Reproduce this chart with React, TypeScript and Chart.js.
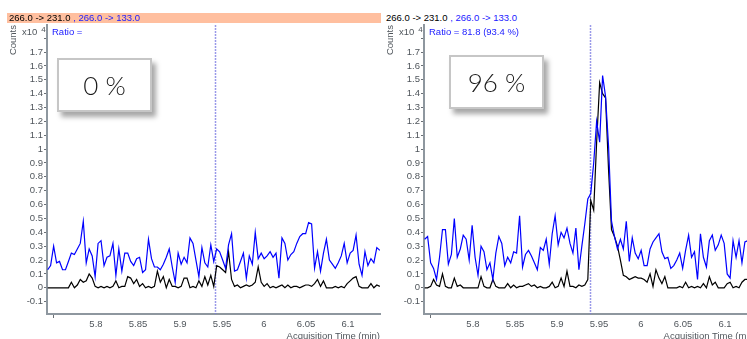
import React, { useEffect, useRef } from "react";
import { Chart, registerables } from "chart.js";
Chart.register(...registerables);

// ---- data ----
const times = [
  5.7425, 5.7460, 5.7496, 5.7531, 5.7566, 5.7602, 5.7637, 5.7672, 5.7707, 5.7743,
  5.7778, 5.7813, 5.7849, 5.7884, 5.7919, 5.7955, 5.7990, 5.8025, 5.8060, 5.8096,
  5.8131, 5.8166, 5.8202, 5.8237, 5.8272, 5.8308, 5.8343, 5.8378, 5.8413, 5.8449,
  5.8484, 5.8519, 5.8555, 5.8590, 5.8625, 5.8661, 5.8696, 5.8731, 5.8766, 5.8802,
  5.8837, 5.8872, 5.8908, 5.8943, 5.8978, 5.9014, 5.9049, 5.9084, 5.9119, 5.9155,
  5.9190, 5.9225, 5.9261, 5.9296, 5.9331, 5.9367, 5.9402, 5.9437, 5.9472, 5.9508,
  5.9543, 5.9578, 5.9614, 5.9649, 5.9684, 5.9720, 5.9755, 5.9790, 5.9825, 5.9861,
  5.9896, 5.9931, 5.9967, 6.0002, 6.0037, 6.0073, 6.0108, 6.0143, 6.0178, 6.0214,
  6.0249, 6.0284, 6.0320, 6.0355, 6.0390, 6.0426, 6.0461, 6.0496, 6.0531, 6.0567,
  6.0602, 6.0637, 6.0673, 6.0708, 6.0743, 6.0779, 6.0814, 6.0849, 6.0884, 6.0920,
  6.0955, 6.0990, 6.1026, 6.1061, 6.1096, 6.1132, 6.1167, 6.1202, 6.1237, 6.1273,
  6.1308, 6.1343, 6.1379,
];

const blueLeft = [
  0.13, 0.16, 0.30, 0.18, 0.19, 0.13, 0.13, 0.19, 0.25, 0.24,
  0.28, 0.32, 0.48, 0.18, 0.28, 0.23, 0.08, 0.32, 0.34, 0.16,
  0.22, 0.23, 0.32, 0.09, 0.28, 0.12, 0.25, 0.25, 0.19, 0.16,
  0.21, 0.22, 0.11, 0.13, 0.35, 0.21, 0.15, 0.15, 0.13, 0.17,
  0.22, 0.28, 0.15, 0.04, 0.25, 0.17, 0.22, 0.18, 0.36, 0.32,
  0.20, 0.08, 0.29, 0.18, 0.15, 0.31, 0.19, 0.28, 0.26, 0.20,
  0.14, 0.31, 0.39, 0.12, 0.13, 0.19, 0.25, 0.07, 0.23, 0.17,
  0.40, 0.21, 0.25, 0.21, 0.23, 0.26, 0.22, 0.25, 0.07, 0.36,
  0.32, 0.20, 0.24, 0.26, 0.32, 0.37, 0.39, 0.39, 0.47, 0.46,
  0.14, 0.26, 0.12, 0.25, 0.35, 0.20, 0.17, 0.14, 0.18, 0.23,
  0.32, 0.18, 0.25, 0.27, 0.38, 0.17, 0.09, 0.26, 0.16, 0.21,
  0.18, 0.29, 0.27,
];

const blackLeft = [
  0, 0, 0, 0, 0, 0, 0, 0, 0.04, 0,
  0.02, 0.06, 0.04, 0.05, 0.10, 0.07, 0.01, 0, 0.01, 0,
  0.01, 0, 0.01, 0.05, 0, 0.01, 0.01, 0.08, 0.07, 0.03,
  0.06, 0.01, 0.03, 0, 0.01, 0, 0.01, 0.12, 0.04, 0.08,
  0, 0.06, 0.01, 0.01, 0, 0.01, 0.07, 0.07, 0, 0.01,
  0, 0.05, 0.01, 0.08, 0.02, 0.09, 0.01, 0.16, 0.15, 0.13,
  0.11, 0.26, 0.06, 0.01, 0.02, 0, 0.01, 0.02, 0.01, 0.02,
  0.04, 0.15, 0.04, 0.01, 0.03, 0, 0.01, 0, 0.01, 0.02,
  0, 0.02, 0, 0.01, 0.01, 0, 0.01, 0.02, 0.02, 0.01,
  0.03, 0.06, 0.01, 0.05, 0, 0, 0, 0.01, 0, 0.01,
  0, 0.03, 0.05, 0.07, 0.08, 0.01, 0, 0, 0, 0.03,
  0, 0.02, 0.01,
];

const blueRight = [
  0.35, 0.37, 0.18, 0.14, 0.06, 0.22, 0.42, 0.42, 0.17, 0.24,
  0.50, 0.22, 0.28, 0.38, 0.35, 0.20, 0.45, 0.22, 0.09, 0.30,
  0.26, 0.13, 0.18, 0.06, 0.25, 0.37, 0.32, 0.16, 0.22, 0.18,
  0.26, 0.25, 0.52, 0.15, 0.24, 0.27, 0.23, 0.18, 0.13, 0.29,
  0.27, 0.35, 0.17, 0.39, 0.52, 0.31, 0.40, 0.36, 0.43, 0.32,
  0.25, 0.43, 0.13, 0.30, 0.46, 0.64, 0.68, 0.90, 1.20, 1.05,
  1.53, 1.38, 1.02, 0.48, 0.37, 0.28, 0.35, 0.28, 0.48, 0.19,
  0.36, 0.25, 0.21, 0.27, 0.16, 0.16, 0.28, 0.33, 0.36, 0.39,
  0.26, 0.21, 0.22, 0.14, 0.16, 0.20, 0.25, 0.14, 0.27, 0.38,
  0.22, 0.26, 0.06, 0.39, 0.22, 0.15, 0.34, 0.38, 0.27, 0.31,
  0.38, 0.32, 0.10, 0.07, 0.34, 0.22, 0.34, 0.18, 0.33, 0.34,
  0.30,
];

const blackRight = [
  0, 0, 0.01, 0.06, 0.02, 0.01, 0.10, 0.01, 0, 0,
  0.07, 0.01, 0.02, 0, 0, 0, 0, 0, 0, 0.08,
  0.01, 0, 0, 0.06, 0.01, 0, 0, 0, 0.03, 0,
  0.02, 0, 0.01, 0.01, 0.02, 0.03, 0.01, 0.02, 0, 0.01,
  0, 0, 0.01, 0.04, 0, 0.01, 0.07, 0.01, 0.12, 0.01,
  0.01, 0, 0.02, 0.01, 0.02, 0.06, 0.63, 0.56, 1.05, 1.48,
  1.40, 1.37, 0.85, 0.42, 0.37, 0.30, 0.20, 0.09, 0.08, 0.06,
  0.07, 0.08, 0.07, 0.07, 0.06, 0.04, 0.10, 0.01, 0.13, 0.07,
  0.03, 0.08, 0, 0, 0, 0, 0.01, 0, 0.04, 0,
  0.01, 0, 0.01, 0, 0.03, 0, 0.08, 0.02, 0.04, 0,
  0, 0, 0.03, 0.04, 0, 0.01, 0, 0.04, 0.06, 0.06,
  0.03,
];

const xTicks = [5.75, 5.8, 5.85, 5.9, 5.95, 6, 6.05, 6.1];
const xTickLabels = ["", "5.8", "5.85", "5.9", "5.95", "6", "6.05", "6.1"];
const yTicks = [-0.1, 0, 0.1, 0.2, 0.3, 0.4, 0.5, 0.6, 0.7, 0.8, 0.9, 1, 1.1, 1.2, 1.3, 1.4, 1.5, 1.6, 1.7, 1.8];
const yTickLabels = ["-0.1", "0", "0.1", "0.2", "0.3", "0.4", "0.5", "0.6", "0.7", "0.8", "0.9", "1", "1.1", "1.2", "1.3", "1.4", "1.5", "1.6", "1.7", ""];

const xRange = [5.7417, 6.1381];
const yRange = [-0.189, 1.895];
const markerLeft = 5.9417;
const markerRight = 5.939;

const transitionA = "266.0 -> 231.0";
const transitionB = " , 266.0 -> 133.0";
const ratioLeft = "Ratio =";
const ratioRight = "Ratio = 81.8 (93.4 %)";
const percentLeft = "0 %";
const percentRight = "96 %";
const yUnit = "x10";
const yExp = "4";
const yTitle = "Counts";
const xTitle = "Acquisition Time (min)";

const FONT = "'Liberation Sans', Arial, Helvetica, sans-serif";
const AXIS_TEXT = "#50565c";

const markerPlugin = {
  id: "markerLine",
  beforeDatasetsDraw(chart: any, _args: any, opts: any) {
    const { ctx, chartArea } = chart;
    const x = Math.round(chart.scales.x.getPixelForValue(opts.value)) + 0.5;
    ctx.save();
    ctx.strokeStyle = "rgba(120,120,225,0.75)";
    ctx.lineWidth = 1.5;
    ctx.setLineDash([2, 1]);
    ctx.beginPath();
    ctx.moveTo(x, chartArea.top);
    ctx.lineTo(x, chartArea.bottom);
    ctx.stroke();
    ctx.restore();
  },
};

function labelFor(ticks: number[], labels: string[], v: number) {
  const i = ticks.findIndex((t) => Math.abs(t - v) < 1e-9);
  return i >= 0 ? labels[i] : "";
}

type PanelProps = {
  left: number;
  blue: number[];
  black: number[];
  marker: number;
  ratio: string;
  percent: string;
  selected: boolean;
  boxLeft: number;
  boxTop: number;
};

function Panel(p: PanelProps) {
  const ref = useRef<HTMLCanvasElement | null>(null);
  useEffect(() => {
    if (!ref.current) return;
    const chart = new Chart(ref.current, {
      type: "line",
      data: {
        datasets: [
          {
            data: p.blue.map((v, i) => ({ x: times[i], y: v })),
            borderColor: "#0000ff",
            borderWidth: 1.2,
            pointRadius: 0,
            tension: 0,
          },
          {
            data: p.black.map((v, i) => ({ x: times[i], y: v })),
            borderColor: "#000000",
            borderWidth: 1.2,
            pointRadius: 0,
            tension: 0,
          },
        ],
      },
      options: {
        animation: false,
        responsive: false,
        maintainAspectRatio: false,
        layout: { padding: { top: 25, right: 1, left: 0, bottom: 0 } },
        plugins: {
          legend: { display: false },
          tooltip: { enabled: false },
          markerLine: { value: p.marker },
        } as any,
        scales: {
          x: {
            type: "linear",
            min: xRange[0],
            max: xRange[1],
            afterFit: (s: any) => {
              s.height = 25;
            },
            afterBuildTicks: (s: any) => {
              s.ticks = xTicks.map((v) => ({ value: v }));
            },
            grid: {
              display: true,
              drawOnChartArea: false,
              drawTicks: true,
              tickLength: 4,
              tickColor: (c: any) => (c.index === 0 ? "#6a6f75" : "rgba(0,0,0,0)"),
              tickWidth: 1,
            },
            border: { display: true, color: "#8e979f", width: 2 },
            ticks: {
              autoSkip: false,
              maxRotation: 0,
              padding: 1,
              color: AXIS_TEXT,
              font: { family: FONT, size: 9.5 },
              callback: (v: any) => labelFor(xTicks, xTickLabels, Number(v)),
            },
          },
          y: {
            type: "linear",
            min: yRange[0],
            max: yRange[1],
            afterFit: (s: any) => {
              s.width = 47;
            },
            afterBuildTicks: (s: any) => {
              s.ticks = yTicks.map((v) => ({ value: v }));
            },
            grid: {
              display: true,
              drawOnChartArea: false,
              drawTicks: true,
              tickLength: 3,
              tickColor: "#6a6f75",
              tickWidth: 1,
            },
            border: { display: true, color: "#8e979f", width: 2 },
            ticks: {
              autoSkip: false,
              padding: 1,
              color: AXIS_TEXT,
              font: { family: FONT, size: 9.5 },
              callback: (v: any) => labelFor(yTicks, yTickLabels, Number(v)),
            },
          },
        },
      } as any,
      plugins: [markerPlugin as any],
    });
    return () => chart.destroy();
  }, []);

  const txt: React.CSSProperties = { position: "absolute", fontFamily: FONT, whiteSpace: "nowrap" };
  return (
    <div style={{ position: "absolute", left: p.left, top: 0, width: 381, height: 339 }}>
      {p.selected && (
        <div style={{ position: "absolute", left: 7, top: 13, width: 374, height: 9.5, background: "#ffbf9f" }} />
      )}
      <div style={{ ...txt, left: 9, top: 12, fontSize: 9.5, lineHeight: "11px" }}>
        <span style={{ color: "#000" }}>{transitionA}</span>
        <span style={{ color: "#1a1aff" }}>{transitionB}</span>
      </div>
      <canvas ref={ref} width={381} height={339} style={{ position: "absolute", left: 0, top: 0, width: 381, height: 339 }} />
      <div
        style={{
          ...txt,
          left: 7,
          top: 25,
          fontSize: 9.5,
          color: AXIS_TEXT,
          writingMode: "vertical-rl",
          transform: "rotate(180deg)",
          lineHeight: "11px",
        }}
      >
        {yTitle}
      </div>
      <div style={{ ...txt, left: 22, top: 26, fontSize: 9.5, color: AXIS_TEXT, lineHeight: "11px" }}>
        {yUnit}
        <span style={{ fontSize: 8, position: "relative", top: -3, marginLeft: 4 }}>{yExp}</span>
      </div>
      <div style={{ ...txt, left: 52, top: 26, fontSize: 9.5, color: "#1a1aff", lineHeight: "11px" }}>{p.ratio}</div>
      <div style={{ ...txt, right: 1, top: 330, fontSize: 9.5, color: AXIS_TEXT, lineHeight: "11px" }}>{xTitle}</div>
      <div
        style={{
          position: "absolute",
          left: p.boxLeft,
          top: p.boxTop,
          width: 95,
          height: 54,
          boxSizing: "border-box",
          border: "2px solid #c6c6c6",
          background: "#fff",
          boxShadow: "4px 5px 5px rgba(0,0,0,0.35)",
          display: "flex",
          alignItems: "center",
          justifyContent: "center",
          fontFamily: "Lato, 'Open Sans', sans-serif",
          fontWeight: 300,
          fontSize: 26,
          color: "#1a1a1a",
        }}
      >
        {p.percent}
      </div>
    </div>
  );
}

export default function App() {
  return (
    <div
      style={{
        position: "fixed",
        left: 0,
        top: 0,
        width: 747,
        height: 339,
        overflow: "hidden",
        background: "#fff",
      }}
    >
      <Panel
        left={377}
        blue={blueRight}
        black={blackRight}
        marker={markerRight}
        ratio={ratioRight}
        percent={percentRight}
        selected={false}
        boxLeft={72}
        boxTop={55}
      />
      <Panel
        left={0}
        blue={blueLeft}
        black={blackLeft}
        marker={markerLeft}
        ratio={ratioLeft}
        percent={percentLeft}
        selected={true}
        boxLeft={57}
        boxTop={58}
      />
    </div>
  );
}
